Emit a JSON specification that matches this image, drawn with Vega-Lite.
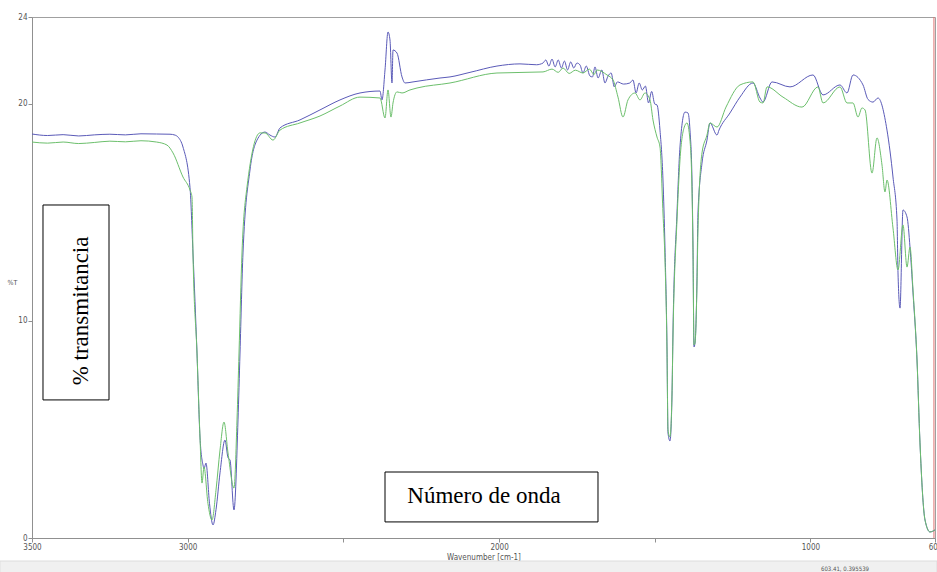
{
  "$schema": "https://vega.github.io/schema/vega-lite/v6.json",
  "width": 903,
  "height": 521,
  "autosize": {"type": "none"},
  "padding": {"left": 32, "top": 17, "right": 2, "bottom": 34},
  "background": "white",
  "config": {
    "view": {"stroke": "#a0a0a0", "strokeWidth": 1},
    "font": "Liberation Sans Narrow, DejaVu Sans Condensed, sans-serif"
  },
  "datasets": {
    "blue": [
      {"wn": 3500, "t": 18.61}, {"wn": 3450, "t": 18.54}, {"wn": 3400, "t": 18.58}, {"wn": 3350, "t": 18.52},
      {"wn": 3300, "t": 18.57}, {"wn": 3250, "t": 18.6}, {"wn": 3200, "t": 18.57}, {"wn": 3150, "t": 18.62},
      {"wn": 3100, "t": 18.61}, {"wn": 3056.8, "t": 18.6}, {"wn": 3040.8, "t": 18.56}, {"wn": 3031.1, "t": 18.47},
      {"wn": 3015.1, "t": 18.01}, {"wn": 2992.6, "t": 16.15}, {"wn": 2983.0, "t": 13.13}, {"wn": 2970.1, "t": 8.52},
      {"wn": 2960.5, "t": 4.65}, {"wn": 2950.8, "t": 3.36}, {"wn": 2947.6, "t": 3.2}, {"wn": 2941.2, "t": 3.45},
      {"wn": 2930, "t": 1.6}, {"wn": 2918.7, "t": 0.6}, {"wn": 2909.1, "t": 1.3}, {"wn": 2896.2, "t": 3.0},
      {"wn": 2880.2, "t": 4.51}, {"wn": 2870.5, "t": 3.7}, {"wn": 2864.1, "t": 3.59}, {"wn": 2851.3, "t": 1.29},
      {"wn": 2838.4, "t": 5.44}, {"wn": 2832.0, "t": 8.52}, {"wn": 2822.4, "t": 13.13}, {"wn": 2799.9, "t": 16.95},
      {"wn": 2777.4, "t": 18.33}, {"wn": 2751.7, "t": 18.7}, {"wn": 2735.7, "t": 18.56}, {"wn": 2719.6, "t": 18.47},
      {"wn": 2703.5, "t": 18.89}, {"wn": 2639.3, "t": 19.26}, {"wn": 2575.1, "t": 19.72}, {"wn": 2510.9, "t": 20.18},
      {"wn": 2446.6, "t": 20.5}, {"wn": 2382.4, "t": 20.59}, {"wn": 2376.0, "t": 20.18}, {"wn": 2366.3, "t": 21.56},
      {"wn": 2356.7, "t": 23.31}, {"wn": 2350.3, "t": 22.94}, {"wn": 2343.9, "t": 20.96}, {"wn": 2340.6, "t": 22.48},
      {"wn": 2327.8, "t": 22.34}, {"wn": 2311.7, "t": 21.24}, {"wn": 2302.1, "t": 20.96}, {"wn": 2276.4, "t": 21.01},
      {"wn": 2189.7, "t": 21.19}, {"wn": 2157.6, "t": 21.24}, {"wn": 2093.4, "t": 21.45}, {"wn": 2006.7, "t": 21.74},
      {"wn": 1932.8, "t": 21.84}, {"wn": 1880, "t": 21.8}, {"wn": 1858.9, "t": 21.88}, {"wn": 1850, "t": 22.02},
      {"wn": 1840, "t": 21.74}, {"wn": 1830, "t": 22.06}, {"wn": 1820, "t": 21.7}, {"wn": 1810, "t": 22.02},
      {"wn": 1800, "t": 21.65}, {"wn": 1790, "t": 21.97}, {"wn": 1780, "t": 21.56}, {"wn": 1770, "t": 21.93},
      {"wn": 1760, "t": 21.65}, {"wn": 1750, "t": 21.88}, {"wn": 1740, "t": 21.79}, {"wn": 1730.5, "t": 21.42},
      {"wn": 1720, "t": 21.74}, {"wn": 1708, "t": 21.28}, {"wn": 1700, "t": 21.24}, {"wn": 1692, "t": 21.7},
      {"wn": 1682, "t": 21.19}, {"wn": 1670, "t": 21.56}, {"wn": 1660, "t": 20.96}, {"wn": 1650, "t": 21.28},
      {"wn": 1640, "t": 21.42}, {"wn": 1630, "t": 20.78}, {"wn": 1620, "t": 21.01}, {"wn": 1600, "t": 20.91},
      {"wn": 1580, "t": 20.96}, {"wn": 1570, "t": 21.1}, {"wn": 1560, "t": 20.5}, {"wn": 1550, "t": 20.96},
      {"wn": 1540, "t": 20.64}, {"wn": 1530, "t": 20.82}, {"wn": 1520, "t": 20.04}, {"wn": 1510, "t": 20.57},
      {"wn": 1500, "t": 19.99}, {"wn": 1492.8, "t": 19.95}, {"wn": 1483.2, "t": 18.79}, {"wn": 1473.6, "t": 16.49},
      {"wn": 1467.2, "t": 13.4}, {"wn": 1460.7, "t": 8.8}, {"wn": 1457.5, "t": 4.84}, {"wn": 1451.1, "t": 4.47},
      {"wn": 1444.7, "t": 6.5}, {"wn": 1441.4, "t": 9.58}, {"wn": 1428.6, "t": 14.97}, {"wn": 1419.0, "t": 18.01},
      {"wn": 1402.9, "t": 19.62}, {"wn": 1393.3, "t": 19.58}, {"wn": 1386.9, "t": 18.79}, {"wn": 1380.4, "t": 16.49},
      {"wn": 1377.2, "t": 13.4}, {"wn": 1374.0, "t": 8.8}, {"wn": 1370.8, "t": 8.98}, {"wn": 1364.4, "t": 11.88},
      {"wn": 1361.2, "t": 14.97}, {"wn": 1348.3, "t": 17.27}, {"wn": 1332.3, "t": 18.33}, {"wn": 1322.6, "t": 19.12},
      {"wn": 1300.1, "t": 18.56}, {"wn": 1293.7, "t": 18.79}, {"wn": 1258.4, "t": 19.58}, {"wn": 1226.3, "t": 20.31},
      {"wn": 1184.5, "t": 20.96}, {"wn": 1162.0, "t": 20.27}, {"wn": 1152.4, "t": 20.08}, {"wn": 1123.5, "t": 21.01},
      {"wn": 1065.7, "t": 20.78}, {"wn": 991.8, "t": 21.33}, {"wn": 959.7, "t": 20.41}, {"wn": 905.1, "t": 20.87},
      {"wn": 882.6, "t": 20.5}, {"wn": 863.3, "t": 21.33}, {"wn": 831.2, "t": 20.87}, {"wn": 815, "t": 20.2},
      {"wn": 799.1, "t": 20.08}, {"wn": 783.1, "t": 20.27}, {"wn": 754.2, "t": 18.79}, {"wn": 734.9, "t": 16.63},
      {"wn": 722.0, "t": 14.65}, {"wn": 718.8, "t": 12.21}, {"wn": 712.4, "t": 10.59}, {"wn": 702.8, "t": 15.11},
      {"wn": 689.9, "t": 14.79}, {"wn": 680.3, "t": 13.4}, {"wn": 670.6, "t": 11.29}, {"wn": 657.8, "t": 8.2},
      {"wn": 648.2, "t": 4.38}, {"wn": 632.1, "t": 0.83}, {"wn": 616.1, "t": 0.28}, {"wn": 600, "t": 0.37}
    ],
    "green": [
      {"wn": 3500, "t": 18.24}, {"wn": 3450, "t": 18.19}, {"wn": 3400, "t": 18.24}, {"wn": 3350, "t": 18.17},
      {"wn": 3300, "t": 18.22}, {"wn": 3250, "t": 18.28}, {"wn": 3200, "t": 18.25}, {"wn": 3150, "t": 18.3},
      {"wn": 3100, "t": 18.24}, {"wn": 3066.4, "t": 18.1}, {"wn": 3047.2, "t": 17.74}, {"wn": 3015.1, "t": 16.63},
      {"wn": 2992.6, "t": 16.03}, {"wn": 2986.2, "t": 15.71}, {"wn": 2983.0, "t": 13.13}, {"wn": 2970.1, "t": 8.52},
      {"wn": 2960.5, "t": 4.65}, {"wn": 2954.0, "t": 2.53}, {"wn": 2947.6, "t": 3.27}, {"wn": 2935, "t": 1.6},
      {"wn": 2921.9, "t": 0.83}, {"wn": 2909.1, "t": 2.2}, {"wn": 2896.2, "t": 4.05}, {"wn": 2883.4, "t": 5.34},
      {"wn": 2870.5, "t": 3.92}, {"wn": 2851.3, "t": 2.3}, {"wn": 2841.6, "t": 5.44}, {"wn": 2835.2, "t": 8.52},
      {"wn": 2825.6, "t": 13.13}, {"wn": 2809.5, "t": 16.17}, {"wn": 2767.8, "t": 18.66}, {"wn": 2751.7, "t": 18.66},
      {"wn": 2726.0, "t": 18.33}, {"wn": 2703.5, "t": 18.79}, {"wn": 2639.3, "t": 19.12}, {"wn": 2575.1, "t": 19.44},
      {"wn": 2510.9, "t": 19.9}, {"wn": 2446.6, "t": 20.31}, {"wn": 2382.4, "t": 20.27}, {"wn": 2366.3, "t": 19.35},
      {"wn": 2356.7, "t": 20.64}, {"wn": 2347.1, "t": 19.39}, {"wn": 2340.6, "t": 20.04}, {"wn": 2327.8, "t": 20.55},
      {"wn": 2311.7, "t": 20.5}, {"wn": 2286.1, "t": 20.64}, {"wn": 2263.6, "t": 20.73}, {"wn": 2157.6, "t": 20.96},
      {"wn": 2006.7, "t": 21.42}, {"wn": 1858.9, "t": 21.47}, {"wn": 1830, "t": 21.6}, {"wn": 1810, "t": 21.45},
      {"wn": 1794.7, "t": 21.65}, {"wn": 1775, "t": 21.4}, {"wn": 1755, "t": 21.55}, {"wn": 1730.5, "t": 21.42},
      {"wn": 1710, "t": 21.6}, {"wn": 1695, "t": 21.35}, {"wn": 1685.5, "t": 21.56}, {"wn": 1653.4, "t": 21.33},
      {"wn": 1634.1, "t": 21.1}, {"wn": 1618.1, "t": 20.31}, {"wn": 1602.0, "t": 19.39}, {"wn": 1586.0, "t": 20.18},
      {"wn": 1563.5, "t": 20.5}, {"wn": 1547.4, "t": 20.18}, {"wn": 1531.4, "t": 20.5}, {"wn": 1515.3, "t": 20.18},
      {"wn": 1505.7, "t": 19.26}, {"wn": 1492.8, "t": 18.47}, {"wn": 1483.2, "t": 18.01}, {"wn": 1473.6, "t": 14.97},
      {"wn": 1467.2, "t": 12.81}, {"wn": 1460.7, "t": 8.66}, {"wn": 1457.5, "t": 4.98}, {"wn": 1451.1, "t": 4.65},
      {"wn": 1444.7, "t": 6.59}, {"wn": 1441.4, "t": 9.35}, {"wn": 1428.6, "t": 14.65}, {"wn": 1419.0, "t": 17.41},
      {"wn": 1406.1, "t": 18.89}, {"wn": 1396.5, "t": 19.12}, {"wn": 1386.9, "t": 18.33}, {"wn": 1380.4, "t": 16.03},
      {"wn": 1377.2, "t": 13.27}, {"wn": 1374.0, "t": 8.89}, {"wn": 1370.8, "t": 8.98}, {"wn": 1364.4, "t": 11.65},
      {"wn": 1361.2, "t": 14.19}, {"wn": 1348.3, "t": 17.74}, {"wn": 1332.3, "t": 18.56}, {"wn": 1322.6, "t": 19.12},
      {"wn": 1300.1, "t": 18.93}, {"wn": 1271.2, "t": 19.85}, {"wn": 1226.3, "t": 20.87}, {"wn": 1184.5, "t": 21.01},
      {"wn": 1162.0, "t": 20.08}, {"wn": 1152.4, "t": 20.04}, {"wn": 1139.5, "t": 20.78}, {"wn": 1088.2, "t": 20.31},
      {"wn": 1027.1, "t": 19.85}, {"wn": 975.8, "t": 20.78}, {"wn": 959.7, "t": 20.04}, {"wn": 905.1, "t": 20.78},
      {"wn": 882.6, "t": 20.04}, {"wn": 863.3, "t": 20.04}, {"wn": 847.3, "t": 19.39}, {"wn": 834.5, "t": 19.81},
      {"wn": 824.8, "t": 19.72}, {"wn": 802.3, "t": 16.81}, {"wn": 786.3, "t": 18.43}, {"wn": 770.2, "t": 17.18},
      {"wn": 760.6, "t": 15.94}, {"wn": 754.2, "t": 16.49}, {"wn": 734.9, "t": 14.28}, {"wn": 718.8, "t": 12.35},
      {"wn": 702.8, "t": 14.42}, {"wn": 689.9, "t": 12.48}, {"wn": 680.3, "t": 13.4}, {"wn": 670.6, "t": 11.42},
      {"wn": 657.8, "t": 8.2}, {"wn": 648.2, "t": 4.38}, {"wn": 632.1, "t": 0.83}, {"wn": 616.1, "t": 0.28},
      {"wn": 600, "t": 0.37}
    ],
    "cursor": [{"wn": 603.41}],
    "boxes": [
      {"wn": 3464.7, "wn2": 3252.7, "t": 15.34, "t2": 6.36},
      {"wn": 2366.3, "wn2": 1682.3, "t": 3.04, "t2": 0.74}
    ],
    "labels": [
      {"wn": 3320, "t": 10.46, "label": "% transmitancia", "angle": 270},
      {"wn": 2048.4, "t": 1.61, "label": "Número de onda", "angle": 0}
    ],
    "status": [{"wn": 3603, "wn2": 593.6, "t": -1.06, "t2": -1.6}],
    "statustext": [{"wn": 889, "t": -1.45, "label": "603.41, 0.395539"}]
  },
  "layer": [
    {
      "data": {"name": "status"},
      "mark": {"type": "rect", "fill": "#f0f0f0", "stroke": "#dcdcdc", "strokeWidth": 1},
      "encoding": {
        "x": {"field": "wn", "type": "quantitative", "scale": {"domain": [3500, 600], "nice": false, "zero": false},
          "axis": {"values": [3500, 3000, 2500, 2000, 1500, 1000, 600], "format": "d",
            "labelExpr": "datum.value == 2500 || datum.value == 1500 ? '' : datum.label",
            "title": "Wavenumber [cm-1]", "titleFontSize": 8, "titleFontWeight": "normal", "titleColor": "#555",
            "titlePadding": 2, "labelFontSize": 8, "labelColor": "#555", "domainColor": "#909090",
            "tickColor": "#909090", "tickSize": 4, "labelPadding": 1, "grid": false, "labelFlush": false}},
        "x2": {"field": "wn2"},
        "y": {"field": "t", "type": "quantitative", "scale": {"domain": [0, 24], "nice": false, "zero": false},
          "axis": {"values": [0, 10, 20, 24], "title": "%T", "titleAngle": 0, "titleX": -20, "titleY": 268,
            "titleFontSize": 7, "titleFontWeight": "normal", "titleColor": "#555", "labelFontSize": 8,
            "labelColor": "#555", "domainColor": "#909090", "tickColor": "#909090", "tickSize": 4,
            "labelPadding": 1, "grid": false}},
        "y2": {"field": "t2"}
      }
    },
    {
      "data": {"name": "statustext"},
      "mark": {"type": "text", "fontSize": 6, "color": "#555", "align": "center", "baseline": "middle"},
      "encoding": {
        "x": {"field": "wn", "type": "quantitative"},
        "y": {"field": "t", "type": "quantitative"},
        "text": {"field": "label"}
      }
    },
    {
      "data": {"name": "cursor"},
      "mark": {"type": "rule", "color": "#e07070", "strokeWidth": 1},
      "encoding": {"x": {"field": "wn", "type": "quantitative"}}
    },
    {
      "data": {"name": "blue"},
      "mark": {"type": "line", "color": "#5a5ab8", "strokeWidth": 1, "interpolate": "monotone"},
      "encoding": {
        "x": {"field": "wn", "type": "quantitative"},
        "y": {"field": "t", "type": "quantitative"}
      }
    },
    {
      "data": {"name": "green"},
      "mark": {"type": "line", "color": "#6cbf6c", "strokeWidth": 1, "interpolate": "monotone"},
      "encoding": {
        "x": {"field": "wn", "type": "quantitative"},
        "y": {"field": "t", "type": "quantitative"}
      }
    },
    {
      "data": {"name": "boxes"},
      "mark": {"type": "rect", "fill": "white", "stroke": "black", "strokeWidth": 1},
      "encoding": {
        "x": {"field": "wn", "type": "quantitative"},
        "x2": {"field": "wn2"},
        "y": {"field": "t", "type": "quantitative"},
        "y2": {"field": "t2"}
      }
    },
    {
      "data": {"name": "labels"},
      "mark": {"type": "text", "font": "Liberation Serif", "fontSize": 23, "color": "black", "align": "center", "baseline": "alphabetic"},
      "encoding": {
        "x": {"field": "wn", "type": "quantitative"},
        "y": {"field": "t", "type": "quantitative"},
        "text": {"field": "label"},
        "angle": {"field": "angle", "type": "quantitative", "scale": null}
      }
    }
  ]
}
